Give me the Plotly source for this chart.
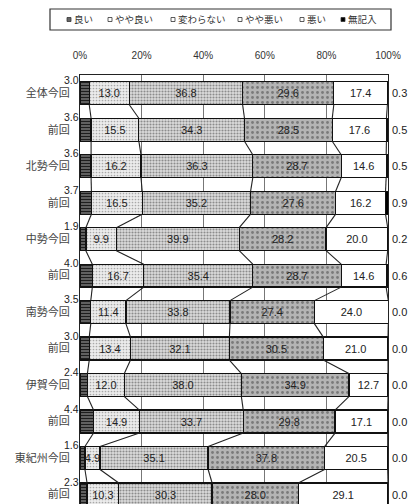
import plotly.graph_objects as go

# ---------------- data ----------------
categories = ["全体今回", "前回", "北勢今回", "前回", "中勢今回", "前回",
              "南勢今回", "前回", "伊賀今回", "前回", "東紀州今回", "前回"]
series_names = ["良い", "やや良い", "変わらない", "やや悪い", "悪い", "無記入"]
yoi       = [3.0, 3.6, 3.6, 3.7, 1.9, 4.0, 3.5, 3.0, 2.4, 4.4, 1.6, 2.3]
yaya_yoi  = [13.0, 15.5, 16.2, 16.5, 9.9, 16.7, 11.4, 13.4, 12.0, 14.9, 4.9, 10.3]
kawaranai = [36.8, 34.3, 36.3, 35.2, 39.9, 35.4, 33.8, 32.1, 38.0, 33.7, 35.1, 30.3]
yaya_warui= [29.6, 28.5, 28.7, 27.6, 28.2, 28.7, 27.4, 30.5, 34.9, 29.8, 37.8, 28.0]
warui     = [17.4, 17.6, 14.6, 16.2, 20.0, 14.6, 24.0, 21.0, 12.7, 17.1, 20.5, 29.1]
mukinyu   = [0.3, 0.5, 0.5, 0.9, 0.2, 0.6, 0.0, 0.0, 0.0, 0.0, 0.0, 0.0]
tick_vals = [0, 20, 40, 60, 80, 100]

series = [yoi, yaya_yoi, kawaranai, yaya_warui, warui, mukinyu]

# ---------------- styles ----------------
W, H = 412, 504
L, R, T, B = 80, 24, 75, 0
BAR_W = 0.63
FONT = "Liberation Sans, Arial, Noto Sans CJK JP, sans-serif"

patterns = [
    dict(shape="-", bgcolor="#6e6e6e", fgcolor="#1e1e1e", size=3, solidity=0.45),
    dict(shape=".", bgcolor="#ececec", fgcolor="#a8a8a8", size=3, solidity=0.25),
    dict(shape=".", bgcolor="#dcdcdc", fgcolor="#8c8c8c", size=3, solidity=0.4),
    dict(shape=".", bgcolor="#b4b4b4", fgcolor="#7a7a7a", size=5, solidity=0.25),
    dict(shape="", bgcolor="#ffffff", fgcolor="#ffffff"),
    dict(shape="", bgcolor="#000000", fgcolor="#000000"),
]
base_colors = ["#555555", "#e8e8e8", "#d5d5d5", "#b0b0b0", "#ffffff", "#000000"]

n = len(categories)
ypos = list(range(n))

fig = go.Figure()

for k, (name, vals) in enumerate(zip(series_names, series)):
    show_text = 1 <= k <= 4
    pat = patterns[k]
    marker = dict(color=base_colors[k], line=dict(color="#111111", width=1.3))
    if pat["shape"]:
        marker["pattern"] = dict(shape=pat["shape"], bgcolor=pat["bgcolor"],
                                 fgcolor=pat["fgcolor"], size=pat["size"],
                                 solidity=pat["solidity"], fillmode="replace")
    fig.add_trace(go.Bar(
        name=name, y=ypos, x=vals, orientation="h", width=BAR_W,
        marker=marker,
        text=[f"{v:.1f}" for v in vals] if show_text else None,
        textposition="inside" if show_text else "none",
        insidetextanchor="middle", textangle=0, constraintext="none",
        insidetextfont=dict(size=11, color="#222222", family=FONT),
        showlegend=False, hoverinfo="x+name",
    ))

# connector (series) lines between consecutive bars
cums = []
for i in range(n):
    acc, row = 0.0, []
    for s in series[:-1]:
        acc += s[i]
        row.append(acc)
    cums.append(row)
lx, ly = [], []
for i in range(n - 1):
    for k in range(len(series) - 1):
        lx += [cums[i][k], cums[i + 1][k], None]
        ly += [i + BAR_W / 2, i + 1 - BAR_W / 2, None]
fig.add_trace(go.Scatter(x=lx, y=ly, mode="lines",
                         line=dict(color="#222222", width=1.1),
                         showlegend=False, hoverinfo="skip"))

annotations = []
# 良い values (above-left of bar) and 無記入 values (right of plot)
for i in range(n):
    annotations.append(dict(x=0, y=i, xref="x", yref="y", text=f"{yoi[i]:.1f}",
                            showarrow=False, xanchor="right", yanchor="middle",
                            xshift=1, yshift=13,
                            font=dict(size=10.5, color="#222222", family=FONT)))
    annotations.append(dict(x=1, y=i, xref="paper", yref="y", text=f"{mukinyu[i]:.1f}",
                            showarrow=False, xanchor="left", yanchor="middle",
                            xshift=2,
                            font=dict(size=11, color="#222222", family=FONT)))

# manual legend (box + small squares + labels)
pw = W - L - R
ph = H - T - B
def px_x(px):
    return (px - L) / pw
def px_y(py):
    return (H - B - py) / ph

shapes = [dict(type="rect", xref="paper", yref="paper",
               x0=px_x(50), x1=px_x(391), y0=px_y(30), y1=px_y(9),
               line=dict(color="#333333", width=1.2), fillcolor="white")]
legend_marker_px = [67, 108, 171, 238, 300, 341]
legend_fill = ["#666666", "#ffffff", "#ffffff", "#ffffff", "#ffffff", "#000000"]
for name, mx, fc in zip(series_names, legend_marker_px, legend_fill):
    shapes.append(dict(type="rect", xref="paper", yref="paper",
                       x0=px_x(mx), x1=px_x(mx + 4), y0=px_y(21.5), y1=px_y(17.5),
                       line=dict(color="#333333", width=0.8), fillcolor=fc))
    annotations.append(dict(x=px_x(mx + 5), y=px_y(19.5), xref="paper", yref="paper",
                            text=name, showarrow=False, xanchor="left", yanchor="middle",
                            font=dict(size=9.5, color="#333333", family=FONT)))

fig.update_layout(
    width=W, height=H,
    margin=dict(l=L, r=R, t=T, b=B, pad=0),
    barmode="stack",
    plot_bgcolor="white", paper_bgcolor="white",
    font=dict(family=FONT, color="#333333"),
    shapes=shapes, annotations=annotations,
    xaxis=dict(side="top", range=[0, 100], tickvals=tick_vals,
               ticktext=[f"{v}%" for v in tick_vals],
               showgrid=True, gridcolor="#777777", gridwidth=1,
               showline=True, mirror=True, linecolor="#222222", linewidth=1.2,
               ticks="", ticklabelstandoff=11, zeroline=False,
               tickfont=dict(size=10, color="#333333", family=FONT)),
    yaxis=dict(range=[n - 0.74, -0.5], tickvals=ypos, ticktext=categories,
               showgrid=False, showline=True, mirror=True,
               linecolor="#222222", linewidth=1.2, ticks="",
               ticklabelstandoff=7, zeroline=False,
               tickfont=dict(size=11, color="#444444",
                             family="Noto Sans CJK JP, sans-serif")),
)

fig.write_html("out.html")
